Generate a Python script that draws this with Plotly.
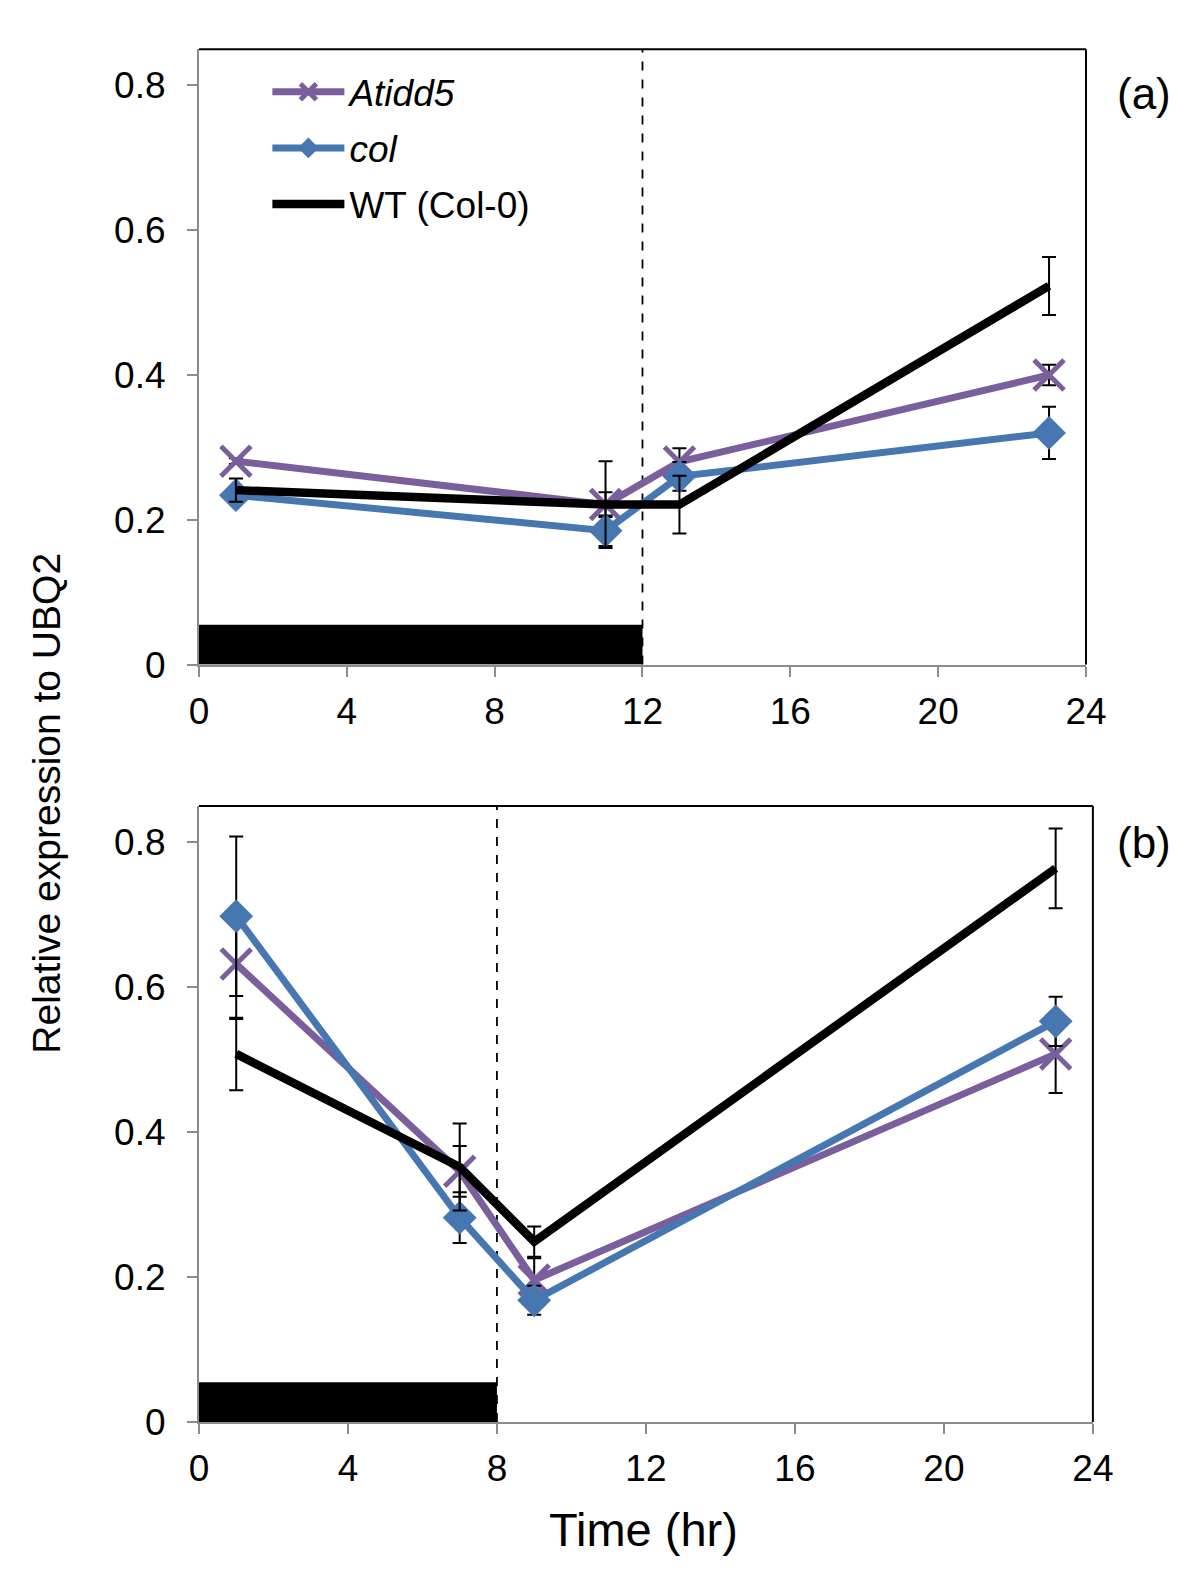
import plotly.graph_objects as go
from plotly.subplots import make_subplots

# ---- data ----
t_a = [1, 11, 13, 23]
atidd5_a = [0.281, 0.221, 0.280, 0.400]
atidd5_a_err = [0.004, 0.017, 0.019, 0.014]
col_a = [0.234, 0.185, 0.260, 0.320]
col_a_err = [0.010, 0.021, 0.020, 0.036]
wt_a = [0.241, 0.221, 0.221, 0.523]
wt_a_err = [0.016, 0.060, 0.040, 0.040]

t_b = [1, 7, 9, 23]
atidd5_b = [0.632, 0.346, 0.196, 0.508]
atidd5_b_err = [0.076, 0.035, 0.030, 0.054]
col_b = [0.698, 0.282, 0.168, 0.553]
col_b_err = [0.110, 0.035, 0.020, 0.034]
wt_b = [0.508, 0.352, 0.249, 0.764]
wt_b_err = [0.050, 0.060, 0.021, 0.055]

dark_end_a = 12
dark_end_b = 8
dark_bar_height = 0.055

x_ticks = [0, 4, 8, 12, 16, 20, 24]
y_ticks = [0, 0.2, 0.4, 0.6, 0.8]
y_ticklabels = ["0", "0.2", "0.4", "0.6", "0.8"]

PURPLE = "#7A5F9C"
BLUE = "#4677B1"
FONT = "Liberation Sans, Arial, sans-serif"

fig = make_subplots(rows=2, cols=1)

def add_panel(row, t, a, ae, c, ce, w, we, show):
    err_style = dict(type="data", visible=True, color="black", thickness=2, width=7)
    fig.add_trace(go.Scatter(
        x=t, y=a, mode="lines+markers", name="<i>Atidd5</i>", legendgroup="a",
        showlegend=show,
        line=dict(color=PURPLE, width=7),
        marker=dict(symbol="x-thin", size=30, color=PURPLE, line=dict(color=PURPLE, width=5)),
        error_y=dict(array=ae, **err_style)), row=row, col=1)
    fig.add_trace(go.Scatter(
        x=t, y=c, mode="lines+markers", name="<i>col</i>", legendgroup="c",
        showlegend=show,
        line=dict(color=BLUE, width=7),
        marker=dict(symbol="diamond", size=26, color=BLUE),
        error_y=dict(array=ce, **err_style)), row=row, col=1)
    fig.add_trace(go.Scatter(
        x=t, y=w, mode="lines", name="WT (Col-0)", legendgroup="w",
        showlegend=show,
        line=dict(color="black", width=8.5),
        error_y=dict(array=we, **err_style)), row=row, col=1)

add_panel(1, t_a, atidd5_a, atidd5_a_err, col_a, col_a_err, wt_a, wt_a_err, True)
add_panel(2, t_b, atidd5_b, atidd5_b_err, col_b, col_b_err, wt_b, wt_b_err, False)

W, H = 1200, 1587
dom_a_x = [0.1548, 0.9136]
dom_b_x = [0.1548, 0.9195]
dom_a_y = [0.5807, 0.9737]
dom_b_y = [0.0970, 0.4904]

axis_common = dict(
    showgrid=False, zeroline=False, showline=True, linecolor="#8C8C8C", linewidth=2,
    ticks="outside", ticklen=10, tickwidth=2, tickcolor="#8C8C8C",
    tickfont=dict(family=FONT, size=37, color="black"),
)

fig.update_xaxes(range=[0, 24], tickvals=x_ticks, ticklabelstandoff=3, **axis_common)
fig.update_yaxes(range=[0, 0.85], tickvals=y_ticks, ticktext=y_ticklabels,
                 ticklabelstandoff=14, **axis_common)
fig.update_layout(
    xaxis=dict(domain=dom_a_x, anchor="y"),
    yaxis=dict(domain=dom_a_y, anchor="x"),
    xaxis2=dict(domain=dom_b_x, anchor="y2"),
    yaxis2=dict(domain=dom_b_y, anchor="x2"),
)

shapes = []
for xr, yr, dark_end in (("x", "y", dark_end_a), ("x2", "y2", dark_end_b)):
    # dark period bar
    shapes.append(dict(type="rect", xref=xr, yref=yr, x0=0, x1=dark_end, y0=0, y1=dark_bar_height,
                       fillcolor="black", line=dict(width=0), layer="below"))
    # dashed transition line
    shapes.append(dict(type="line", xref=xr, yref=f"{yr} domain", x0=dark_end, x1=dark_end, y0=0, y1=1,
                       line=dict(color="black", width=1.8, dash="dash"), layer="below"))
    # top and right plot border
    shapes.append(dict(type="line", xref=f"{xr} domain", yref=f"{yr} domain", x0=0, x1=1, y0=1, y1=1,
                       line=dict(color="black", width=2)))
    shapes.append(dict(type="line", xref=f"{xr} domain", yref=f"{yr} domain", x0=1, x1=1, y0=0, y1=1,
                       line=dict(color="black", width=2)))

annotations = [
    dict(text="Relative expression to UBQ2", xref="paper", yref="paper", x=29.8 / W, y=1 - 806.3 / H,
         textangle=-90, showarrow=False, font=dict(family=FONT, size=39, color="black"),
         xanchor="center", yanchor="middle"),
    dict(text="Time (hr)", xref="paper", yref="paper", x=642.5 / W, y=1 - 1541.6 / H,
         showarrow=False, font=dict(family=FONT, size=47, color="black"),
         xanchor="center", yanchor="middle"),
    dict(text="(a)", xref="paper", yref="paper", x=1156 / W, y=1 - 87 / H,
         showarrow=False, font=dict(family=FONT, size=44, color="black"),
         xanchor="center", yanchor="middle"),
    dict(text="(b)", xref="paper", yref="paper", x=1156 / W, y=1 - 845.5 / H,
         showarrow=False, font=dict(family=FONT, size=44, color="black"),
         xanchor="center", yanchor="middle"),
]

fig.update_layout(
    width=W, height=H,
    margin=dict(l=0, r=0, t=0, b=0),
    paper_bgcolor="white", plot_bgcolor="white",
    shapes=shapes, annotations=annotations,
    showlegend=True,
    legend=dict(x=256 / W, y=1 - 54 / H, xanchor="left", yanchor="top",
                font=dict(family=FONT, size=37, color="black"),
                bgcolor="rgba(0,0,0,0)", tracegroupgap=5, itemwidth=72),
)

fig.write_html("out.html")
